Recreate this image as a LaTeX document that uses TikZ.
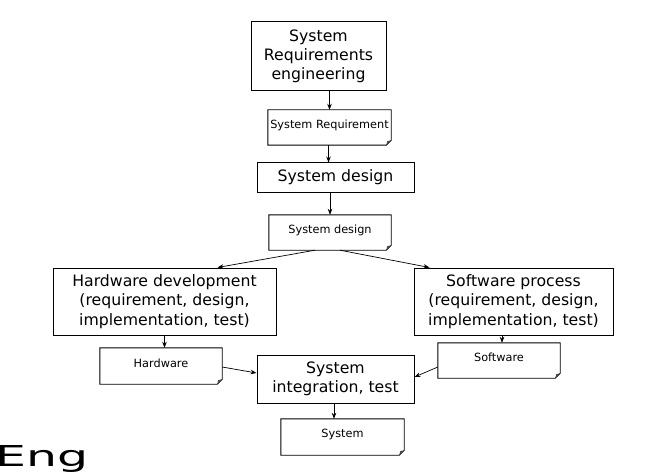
\documentclass[tikz,border=0pt]{standalone}
\usepackage{fontspec}
\setmainfont{DejaVu Sans}
\usetikzlibrary{arrows.meta}
\newcommand\docoutline[1]{%
  \draw[line width=0.9pt] (#1.north west) -- (#1.north east) -- ([yshift=5pt]#1.south east) -- ([xshift=-5pt]#1.south east) -- (#1.south west) -- cycle;
  \fill[black!70] ([yshift=5pt]#1.south east) -- ([xshift=-5pt]#1.south east) -- ([xshift=-4pt,yshift=4pt]#1.south east) -- cycle;}
\begin{document}
\begin{tikzpicture}[x=1pt,y=-1pt,
  procbox/.style={draw=black, line width=1pt, inner sep=0pt, align=center,
    font=\fontsize{15.7}{19.3}\selectfont},
  docnode/.style={inner sep=0pt},
  doctext/.style={inner sep=0pt, font=\fontsize{11.3}{13}\selectfont},
  conn/.style={-{Stealth[length=6pt,width=4.5pt]}, line width=0.7pt}]
\useasboundingbox (0,0) rectangle (663,473);
\clip (0,0) rectangle (663,473);
% process boxes
\node[procbox, minimum width=135pt, minimum height=69pt] (box1) at (318.5,56.5) {System\\Requirements\\engineering};
\node[procbox, minimum width=157pt, minimum height=29pt] (box2) at (335.5,177.5) {System design};
\node[procbox, minimum width=223pt, minimum height=67pt] (hw) at (164.5,301.5) {Hardware development\\(requirement, design,\\implementation, test)};
\node[procbox, minimum width=199pt, minimum height=67pt] (sw) at (513.5,301.5) {Software process\\(requirement, design,\\implementation, test)};
\node[procbox, minimum width=157pt, minimum height=48pt] (integ) at (335.5,379) {System\\integration, test};
% documents
\node[docnode, minimum width=123pt, minimum height=35pt] (doc1) at (329.5,127.5) {};
\node[docnode, minimum width=122pt, minimum height=35pt] (doc2) at (330,232.5) {};
\node[docnode, minimum width=122pt, minimum height=36pt] (hwdoc) at (161,366) {};
\node[docnode, minimum width=122pt, minimum height=35pt] (swdoc) at (499,360.5) {};
\node[docnode, minimum width=123pt, minimum height=36pt] (sysdoc) at (342.5,437) {};
\docoutline{doc1}
\docoutline{doc2}
\docoutline{hwdoc}
\docoutline{swdoc}
\docoutline{sysdoc}
\node[doctext] (doc1t) at ([yshift=2pt]doc1.center) {System Requirement};
\node[doctext] (doc2t) at ([yshift=2pt]doc2.center) {System design};
\node[doctext] (hwdoct) at ([yshift=3pt]hwdoc.center) {Hardware};
\node[doctext] (swdoct) at ([yshift=3pt]swdoc.center) {Software};
\node[doctext] (sysdoct) at ([yshift=3pt]sysdoc.center) {System};
% connectors
\draw[conn] (doc1.north |- box1.south) -- (doc1.north);
\draw[conn] ([xshift=-1pt]doc1.south) -- ([xshift=-1pt]doc1.south |- box2.north);
\draw[conn] (doc2.north |- box2.south) -- (doc2.north);
\draw[conn] ([xshift=-15pt]doc2.south) -- ([xshift=53pt]hw.north);
\draw[conn] ([xshift=10pt]doc2.south) -- ([xshift=16pt]sw.north west);
\draw[conn] (hw.south) -- (hw.south |- hwdoc.north);
\draw[conn] ([xshift=3pt]swdoc.north |- sw.south) -- ([xshift=3pt]swdoc.north);
\draw[conn] ([yshift=-1pt]hwdoc.east) -- ([yshift=6pt]integ.west);
\draw[conn] ([yshift=-6.5pt]swdoc.west) -- ([yshift=2pt]integ.east);
\draw[conn] ([xshift=-1.5pt]integ.south) -- ([xshift=-1.5pt]integ.south |- sysdoc.north);
% cut-off heading
\node[anchor=base west, inner sep=0pt, font=\fontsize{28.8}{30}\selectfont] (eng) at (-4.5,466) {\scalebox{1.7}[1]{Eng}};
\end{tikzpicture}
\end{document}
